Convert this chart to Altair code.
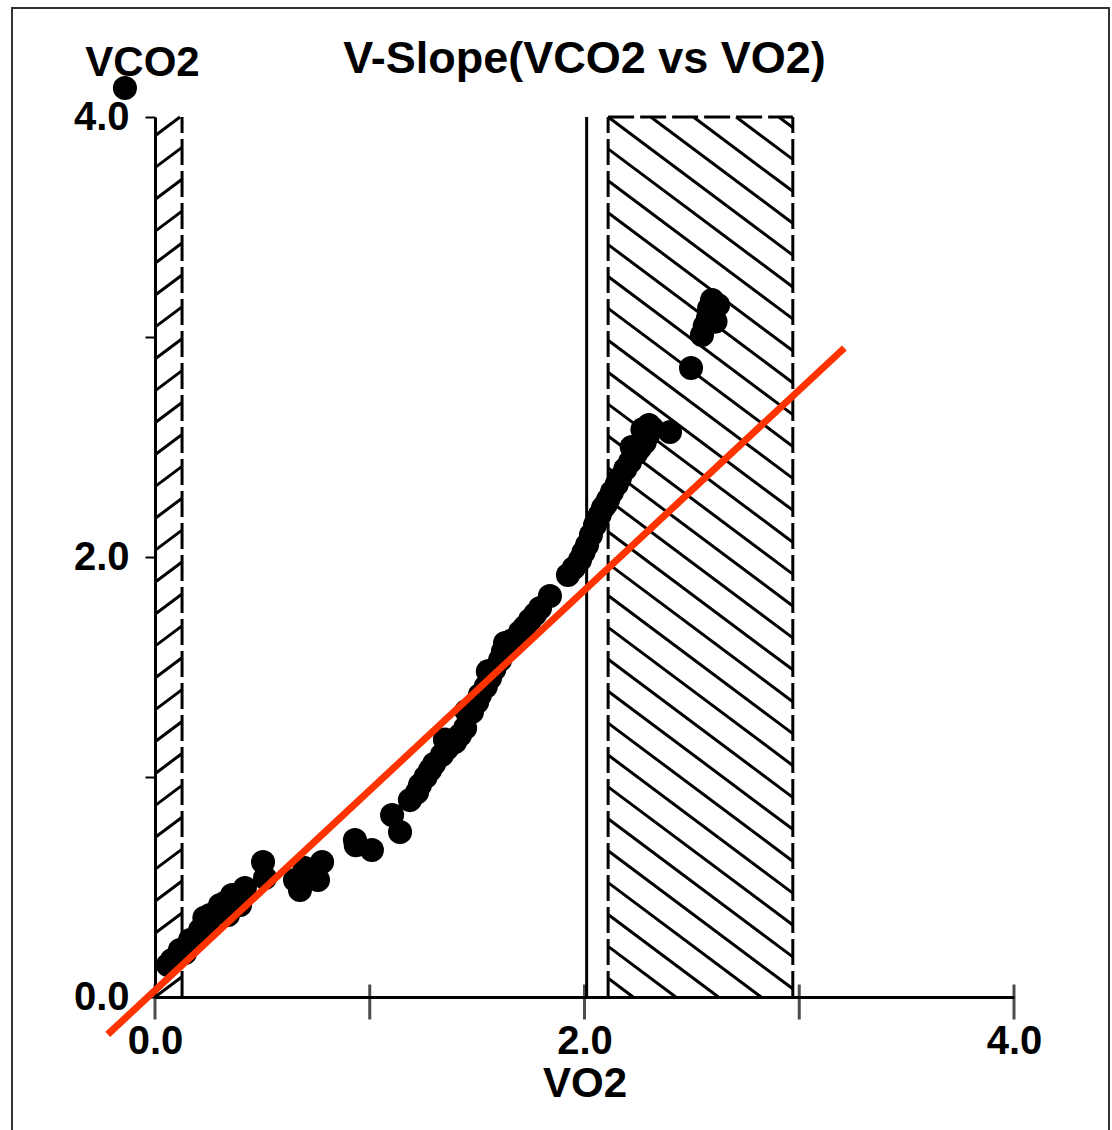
import altair as alt
import pandas as pd
import numpy as np

# ---- data ----
VO2 = [0.06, 0.079, 0.116, 0.163, 0.210, 0.247, 0.256, 0.303, 0.359, 0.396, 0.340, 0.419,
       0.503, 0.512, 0.652, 0.698, 0.759, 0.675, 0.778, 0.931, 1.010, 1.104, 1.141, 1.187,
       1.234, 1.281, 1.336, 1.397, 1.444, 1.476, 1.513, 1.560, 1.607, 1.630, 1.700, 1.746,
       1.793, 1.839, 1.923, 1.979, 2.012, 2.049, 2.086, 2.128, 2.165, 2.212, 2.258, 2.296,
       2.314, 2.398, 2.496, 2.547, 2.575, 2.622, 2.594, -0.140,
       0.14, 0.19, 0.29, 0.33, 0.23, 0.72, 0.935, 1.22, 1.26, 1.30, 1.36, 1.35, 1.42,
       1.45, 1.50, 1.54, 1.55, 1.58, 1.62, 1.66, 1.72, 1.77, 1.95, 2.03, 2.07, 2.11, 2.15,
       2.19, 2.22, 2.24, 2.27, 2.28, 2.30, 2.58, 2.61, 2.56, 1.995, 2.10]
VCO2 = [0.145, 0.168, 0.214, 0.259, 0.305, 0.327, 0.373, 0.418, 0.464, 0.418, 0.373, 0.495,
        0.614, 0.541, 0.532, 0.586, 0.532, 0.486, 0.614, 0.714, 0.668, 0.827, 0.750, 0.895,
        0.964, 1.032, 1.100, 1.159, 1.223, 1.295, 1.373, 1.450, 1.532, 1.609, 1.659, 1.714,
        1.768, 1.823, 1.918, 1.986, 2.055, 2.145, 2.223, 2.295, 2.359, 2.432, 2.495, 2.555,
        2.586, 2.568, 2.859, 3.009, 3.086, 3.145, 3.168, 4.132,
        0.20, 0.26, 0.39, 0.43, 0.36, 0.56, 0.69, 0.93, 1.00, 1.06, 1.13, 1.17, 1.19,
        1.30, 1.34, 1.41, 1.48, 1.49, 1.57, 1.62, 1.68, 1.74, 1.95, 2.10, 2.19, 2.26, 2.33,
        2.40, 2.50, 2.47, 2.58, 2.52, 2.60, 3.13, 3.07, 3.05, 2.02, 2.24]

FIT_X = [-0.22, 3.21]
FIT_Y = [-0.17, 2.95]

LEFT_BAND = [0.0, 0.126]
RIGHT_BAND = [2.11, 2.97]
AT_LINE = 2.01
Y_TOP = 4.0
HATCH_SLOPE = 0.73
HATCH_STEP = 0.145

X_TICKS = [0, 1, 2, 3, 4]
Y_TICKS = [0, 1, 2, 3, 4]

TITLE = "V-Slope(VCO2 vs VO2)"
X_TITLE = "VO2"
Y_TITLE = "VCO2"

FONT = "Liberation Sans"
W, H = 859, 880


def hatch_segments(x0, x1, slope, step, phase):
    rows = []
    w = x1 - x0
    kmin = int(np.floor((-Y_TOP - abs(slope) * w) / step)) - 2
    kmax = int(np.ceil((2 * Y_TOP + abs(slope) * w) / step)) + 2
    for k in range(kmin, kmax + 1):
        c = phase + k * step
        xa = x0 + (0 - c) / slope
        xb = x0 + (Y_TOP - c) / slope
        lo = max(x0, min(xa, xb))
        hi = min(x1, max(xa, xb))
        if hi - lo > 1e-6:
            rows.append(dict(vo2=lo, vco2=c + slope * (lo - x0),
                             vo2_end=hi, vco2_end=c + slope * (hi - x0)))
    return rows


hatch_df = pd.DataFrame(
    hatch_segments(RIGHT_BAND[0], RIGHT_BAND[1], -HATCH_SLOPE, HATCH_STEP, Y_TOP)
    + hatch_segments(LEFT_BAND[0], LEFT_BAND[1], HATCH_SLOPE, HATCH_STEP, 0.0)
)
border_df = pd.DataFrame([
    dict(vo2=RIGHT_BAND[0], vco2=0, vo2_end=RIGHT_BAND[0], vco2_end=Y_TOP),
    dict(vo2=RIGHT_BAND[1], vco2=0, vo2_end=RIGHT_BAND[1], vco2_end=Y_TOP),
    dict(vo2=RIGHT_BAND[0], vco2=Y_TOP, vo2_end=RIGHT_BAND[1], vco2_end=Y_TOP),
    dict(vo2=LEFT_BAND[1], vco2=0, vo2_end=LEFT_BAND[1], vco2_end=Y_TOP),
])
at_df = pd.DataFrame([dict(vo2=AT_LINE, vco2=0, vo2_end=AT_LINE, vco2_end=Y_TOP)])
pts_df = pd.DataFrame(dict(vo2=VO2, vco2=VCO2))
fit_df = pd.DataFrame(dict(vo2=FIT_X, vco2=FIT_Y))
tick_df = pd.DataFrame(dict(vo2=X_TICKS, vco2=[0] * len(X_TICKS)))

XS = alt.Scale(domain=[0, 4], nice=False, zero=False)
YS = alt.Scale(domain=[0, 4], nice=False, zero=False)

AX_X = alt.Axis(values=X_TICKS, title=X_TITLE, ticks=False, grid=False,
                labelExpr="datum.value % 2 == 0 ? format(datum.value, '.1f') : ''",
                labelFont=FONT, labelFontSize=40, labelFontWeight="bold", labelColor="black",
                labelPadding=24, labelFlush=False,
                titleFont=FONT, titleFontSize=42, titleFontWeight="bold", titleColor="black",
                titleY=99, titleBaseline="alphabetic",
                domainColor="black", domainWidth=3)
AX_Y = alt.Axis(values=Y_TICKS, title=Y_TITLE, grid=False,
                labelExpr="datum.value % 2 == 0 ? format(datum.value, '.1f') : ''",
                labelFont=FONT, labelFontSize=40, labelFontWeight="bold", labelColor="black",
                labelPadding=16, labelFlush=False,
                tickSize=10, tickWidth=2, tickColor="black",
                titleFont=FONT, titleFontSize=42, titleFontWeight="bold", titleColor="black",
                titleAngle=0, titleX=-13, titleY=-42, titleAlign="center",
                titleBaseline="alphabetic",
                domainColor="black", domainWidth=3)


def X(f="vo2"):
    return alt.X(f, type="quantitative", scale=XS, axis=AX_X)


def Y(f="vco2"):
    return alt.Y(f, type="quantitative", scale=YS, axis=AX_Y)


frame = alt.Chart(at_df).mark_rect(fillOpacity=0, stroke="#333333", strokeWidth=2).encode(
    x=alt.value(-143), x2=alt.value(954), y=alt.value(-109), y2=alt.value(1030))

hatch = alt.Chart(hatch_df).mark_rule(color="black", strokeWidth=3).encode(
    x=X(), y=Y(), x2="vo2_end", y2="vco2_end")

borders = alt.Chart(border_df).mark_rule(color="black", strokeWidth=3, strokeDash=[26, 6]).encode(
    x=X(), y=Y(), x2="vo2_end", y2="vco2_end")

at_line = alt.Chart(at_df).mark_rule(color="black", strokeWidth=3).encode(
    x=X(), y=Y(), x2="vo2_end", y2="vco2_end")

points = alt.Chart(pts_df).mark_circle(size=580, color="black", opacity=1).encode(
    x=X(), y=Y())

ticks = alt.Chart(tick_df).mark_tick(color="black", size=35, thickness=3, yOffset=5,
                                     orient="vertical").encode(x=X(), y=Y())

fit = alt.Chart(fit_df).mark_line(color="#ff3300", strokeWidth=7).encode(x=X(), y=Y())

chart = alt.layer(frame, hatch, borders, at_line, points, ticks, fit).properties(
    width=W, height=H,
    title=alt.TitleParams(TITLE, font=FONT, fontSize=45, fontWeight="bold", color="black",
                          anchor="middle", offset=40, dy=115),
    autosize=alt.AutoSizeParams(type="none"),
    padding={"left": 155, "top": 117, "right": 98, "bottom": 133},
    background="white",
).configure_view(stroke=None)

chart.save("out.html", embed_options={"renderer": "svg", "actions": False})
